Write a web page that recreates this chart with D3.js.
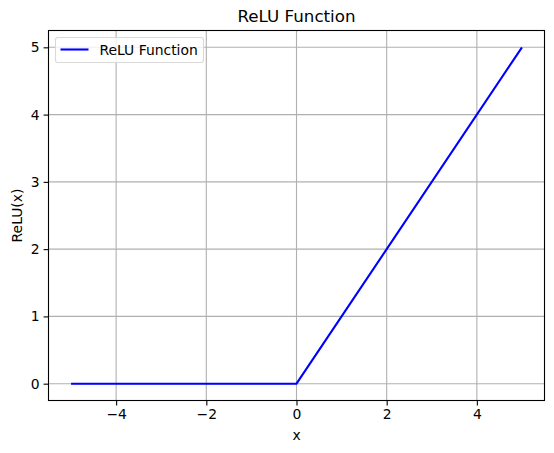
<!DOCTYPE html>
<html>
<head>
<meta charset="utf-8">
<script src="https://cdn.jsdelivr.net/npm/d3@7"></script>
<style>
  body { margin: 0; background: #fff; }
  svg { font-family: "DejaVu Sans", sans-serif; }
</style>
</head>
<body>
<div id="chart"></div>
<script>
// data
const xValues = [-5, 0, 5];
const reluValues = [0, 0, 5];
const xTicks = [-4, -2, 0, 2, 4];
const yTicks = [0, 1, 2, 3, 4, 5];

const W = 554, H = 453;
const m = { left: 48.5, right: 9.5, top: 30.5, bottom: 52.5 };

const svg = d3.select("#chart").append("svg").attr("width", W).attr("height", H);

const x = d3.scaleLinear().domain([-5.5, 5.5]).range([m.left, W - m.right]);
const y = d3.scaleLinear().domain([-0.25, 5.25]).range([H - m.bottom, m.top]);

// grid
svg.append("g").selectAll("line").data(xTicks).enter().append("line")
  .attr("x1", d => x(d)).attr("x2", d => x(d))
  .attr("y1", m.top).attr("y2", H - m.bottom)
  .attr("stroke", "#b0b0b0").attr("stroke-width", 1.1);
svg.append("g").selectAll("line").data(yTicks).enter().append("line")
  .attr("y1", d => y(d)).attr("y2", d => y(d))
  .attr("x1", m.left).attr("x2", W - m.right)
  .attr("stroke", "#b0b0b0").attr("stroke-width", 1.1);

// line
const pts = xValues.map((d, i) => [d, reluValues[i]]);
svg.append("path")
  .datum(pts)
  .attr("d", d3.line().x(d => x(d[0])).y(d => y(d[1])))
  .attr("fill", "none").attr("stroke", "blue").attr("stroke-width", 2.1);

// axes
const fmt = d => d < 0 ? "\u2212" + Math.abs(d) : String(d);
const xAxis = svg.append("g").attr("transform", `translate(0,${H - m.bottom})`)
  .call(d3.axisBottom(x).tickValues(xTicks).tickFormat(fmt).tickSize(4.9).tickPadding(4));
const yAxis = svg.append("g").attr("transform", `translate(${m.left},0)`)
  .call(d3.axisLeft(y).tickValues(yTicks).tickFormat(fmt).tickSize(4.9).tickPadding(4));
[xAxis, yAxis].forEach(a => {
  a.select(".domain").remove();
  a.selectAll("text").attr("font-size", 13.9).attr("fill", "#000").attr("font-family", "DejaVu Sans");
  a.selectAll("line").attr("stroke", "#000").attr("stroke-width", 1.1);
});

// frame
svg.append("rect")
  .attr("x", m.left).attr("y", m.top)
  .attr("width", W - m.left - m.right).attr("height", H - m.top - m.bottom)
  .attr("fill", "none").attr("stroke", "#000").attr("stroke-width", 1.1);

// labels
svg.append("text").attr("x", (m.left + W - m.right) / 2).attr("y", 22)
  .attr("text-anchor", "middle").attr("font-size", 16.7).text("ReLU Function");
svg.append("text").attr("x", (m.left + W - m.right) / 2).attr("y", 440)
  .attr("text-anchor", "middle").attr("font-size", 13.9).text("x");
svg.append("text")
  .attr("transform", `translate(22,${(m.top + H - m.bottom) / 2}) rotate(-90)`)
  .attr("text-anchor", "middle").attr("font-size", 13.9).text("ReLU(x)");

// legend
const lg = svg.append("g").attr("transform", `translate(${m.left + 7},${m.top + 7})`);
lg.append("rect").attr("width", 148).attr("height", 25).attr("rx", 2.5)
  .attr("fill", "#fff").attr("fill-opacity", 0.8)
  .attr("stroke", "#d9d9d9").attr("stroke-width", 1.1);
lg.append("line").attr("x1", 5).attr("x2", 33).attr("y1", 12).attr("y2", 12)
  .attr("stroke", "blue").attr("stroke-width", 2.1);
lg.append("text").attr("x", 44).attr("y", 17).attr("font-size", 13.9).text("ReLU Function");
</script>
</body>
</html>
